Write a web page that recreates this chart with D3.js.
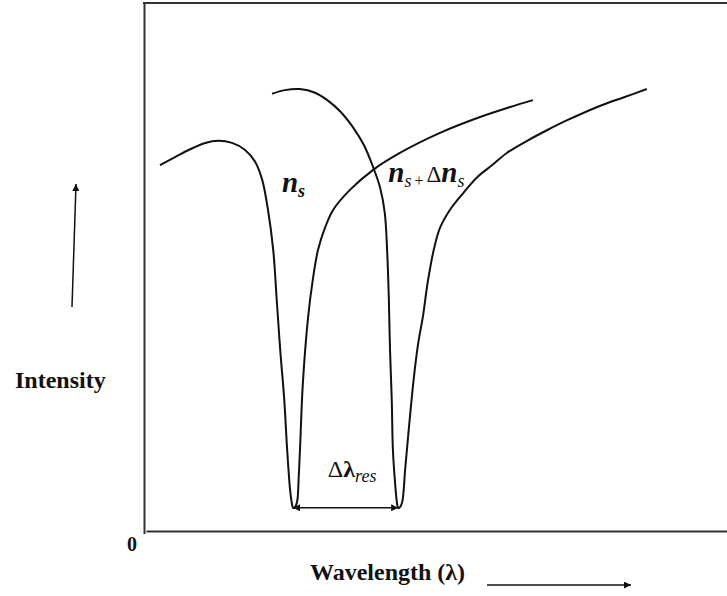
<!DOCTYPE html>
<html>
<head>
<meta charset="utf-8">
<script src="https://cdn.jsdelivr.net/npm/d3@7"></script>
</head>
<body style="margin:0">
<svg id="chart" width="727" height="596"></svg>
<script>
// Resonance dip of the transmitted intensity, before and after the index change.
// Wavelength and intensity are in arbitrary units (0–100).
const wavelengthBase = [2.4, 5.0, 7.6, 10.2, 12.4, 14.8, 17.0, 18.8, 20.0, 21.0, 21.9, 22.5, 23.1, 23.8, 24.3, 24.8, 25.1, 25.3, 25.6, 26.0, 26.3, 26.5, 27.0, 27.9, 28.7, 29.6, 30.8, 32.2, 35.1, 39.1, 43.7, 50.6, 57.5, 62.7, 66.6];
const intensityBase  = [69.3, 70.8, 72.3, 73.5, 73.9, 73.5, 72.2, 69.9, 66.5, 60.8, 53.2, 43.8, 34.3, 24.8, 15.3, 7.8, 5.3, 4.4, 4.5, 5.5, 10.6, 15.3, 28.0, 40.5, 47.5, 53.2, 57.4, 60.8, 64.6, 68.4, 71.6, 75.4, 78.4, 80.3, 81.6];

const wavelengthShifted = [21.7, 23.9, 26.5, 29.1, 31.2, 33.4, 35.6, 37.5, 39.1, 40.3, 41.1, 41.5, 41.8, 42.0, 42.3, 42.5, 42.9, 43.2, 43.4, 43.7, 44.1, 44.6, 44.9, 46.0, 46.8, 47.7, 48.5, 49.6, 50.6, 52.3, 54.6, 57.0, 59.6, 62.1, 65.6, 69.0, 72.5, 78.1, 82.4, 86.2];
const intensityShifted  = [82.8, 83.5, 83.7, 83.0, 81.6, 79.5, 76.5, 73.1, 68.9, 65.0, 60.2, 53.2, 43.8, 34.3, 24.8, 15.3, 8.7, 5.3, 4.4, 4.5, 5.5, 11.6, 15.3, 28.0, 35.2, 40.9, 47.2, 53.6, 57.4, 60.8, 64.0, 67.0, 69.3, 71.6, 73.9, 75.9, 77.8, 80.5, 82.2, 83.7];

// Label anchors (wavelength, intensity)
const labelBase = [23.4, 64.2];
const labelShifted = [41.7, 66.1];
const labelShift = [31.3, 10.2];

const svg = d3.select("#chart");
const W = 727, H = 596;
const plotLeft = 146, plotTop = 3, plotBottom = 531;
const ink = "#111";
const textFont = "'Liberation Serif', 'Times New Roman', Tinos, serif";

const x = d3.scaleLinear().domain([0, 100]).range([plotLeft, W]);
const y = d3.scaleLinear().domain([0, 100]).range([plotBottom, plotTop]);

// Arrowhead markers
const defs = svg.append("defs");
function marker(id, orient) {
  defs.append("marker")
    .attr("id", id)
    .attr("viewBox", "0 0 10 10")
    .attr("refX", 10).attr("refY", 5)
    .attr("markerWidth", 10).attr("markerHeight", 7)
    .attr("markerUnits", "userSpaceOnUse")
    .attr("orient", orient)
    .append("path").attr("d", "M0,0 L10,5 L0,10 Z").attr("fill", ink);
}
marker("head", "auto");
marker("headBoth", "auto-start-reverse");

// Frame: left and bottom axes without ticks, plus a top rule
const frameColor = "#333";
svg.append("g")
  .attr("transform", `translate(0,${plotBottom})`)
  .call(d3.axisBottom(x).ticks(0).tickSizeOuter(0))
  .call(g => g.select(".domain").attr("stroke", frameColor).attr("stroke-width", 2));
svg.append("g")
  .attr("transform", `translate(${plotLeft - 2},0)`)
  .call(d3.axisLeft(y).ticks(0).tickSizeOuter(0))
  .call(g => g.select(".domain").attr("stroke", frameColor).attr("stroke-width", 2)
    .attr("d", `M0.5,${plotTop - 1}V${plotBottom + 3}`));
svg.append("line")
  .attr("x1", plotLeft - 3).attr("x2", W)
  .attr("y1", plotTop).attr("y2", plotTop)
  .attr("stroke", frameColor).attr("stroke-width", 2);

// Spectra
const line = d3.line()
  .x(d => x(d[0])).y(d => y(d[1]))
  .curve(d3.curveCatmullRom.alpha(0.5));

const base = wavelengthBase.map((w, i) => [w, intensityBase[i]]);
const shifted = wavelengthShifted.map((w, i) => [w, intensityShifted[i]]);

[base, shifted].forEach(pts => {
  svg.append("path")
    .datum(pts)
    .attr("d", line)
    .attr("fill", "none")
    .attr("stroke", ink)
    .attr("stroke-width", 2)
    .attr("stroke-linejoin", "round");
});

// Resonance shift between the two minima
const minBase = base.reduce((a, b) => (b[1] < a[1] ? b : a));
const minShifted = shifted.reduce((a, b) => (b[1] < a[1] ? b : a));
const minLevel = Math.min(minBase[1], minShifted[1]);
svg.append("line")
  .attr("x1", x(minBase[0])).attr("x2", x(minShifted[0]))
  .attr("y1", y(minLevel)).attr("y2", y(minLevel))
  .attr("stroke", ink).attr("stroke-width", 1.3)
  .attr("marker-start", "url(#headBoth)")
  .attr("marker-end", "url(#headBoth)");

// A single run of text; font settings go in the inline style
function word(px, py, text, size, opts = {}) {
  return svg.append("text")
    .attr("x", px).attr("y", py)
    .attr("font-family", textFont)
    .attr("font-size", size)
    .attr("font-weight", opts.bold ? "bold" : "normal")
    .attr("font-style", opts.italic ? "italic" : "normal")
    .style("font-family", textFont)
    .style("font-size", size + "px")
    .style("font-weight", opts.bold ? "bold" : "normal")
    .style("font-style", opts.italic ? "italic" : "normal")
    .attr("fill", ink)
    .text(text);
}
// Lays out a sequence of runs left to right; each run is [text, size, opts, gap, rise]
function runs(px, py, parts) {
  let cx = px;
  parts.forEach(([text, size, opts, gap = 0, rise = 0]) => {
    cx += gap;
    const t = word(cx, py + rise, text, size, opts);
    let w = t.node().getComputedTextLength();
    if (!w) w = text.length * size * 0.5;
    cx += w;
  });
}

// Curve labels
runs(x(labelBase[0]), y(labelBase[1]), [
  ["n", 29, { bold: true, italic: true }],
  ["s", 18, { bold: true, italic: true }, 0, 5]
]);
runs(x(labelShifted[0]), y(labelShifted[1]), [
  ["n", 29, { bold: true, italic: true }],
  ["s", 18, { italic: true }, 0, 5],
  ["+", 16, {}, 3, 4],
  ["Δ", 23, {}, 3],
  ["n", 29, { bold: true, italic: true }],
  ["s", 18, { italic: true }, 0, 5]
]);
runs(x(labelShift[0]), y(labelShift[1]), [
  ["Δ", 24, {}],
  ["λ", 24, { bold: true }],
  ["res", 18, { italic: true }, 0, 5]
]);

// Axis titles with direction arrows
word(15, 388, "Intensity", 24, { bold: true });
svg.append("line")
  .attr("x1", 72).attr("y1", 307).attr("x2", 76).attr("y2", 184)
  .attr("stroke", ink).attr("stroke-width", 1.5)
  .attr("marker-end", "url(#head)");

word(310, 580, "Wavelength (λ)", 24, { bold: true });
svg.append("line")
  .attr("x1", 487).attr("y1", 585).attr("x2", 631).attr("y2", 585)
  .attr("stroke", ink).attr("stroke-width", 1.5)
  .attr("marker-end", "url(#head)");

word(132, 551, "0", 20, { bold: true }).attr("text-anchor", "middle");
</script>
</body>
</html>
